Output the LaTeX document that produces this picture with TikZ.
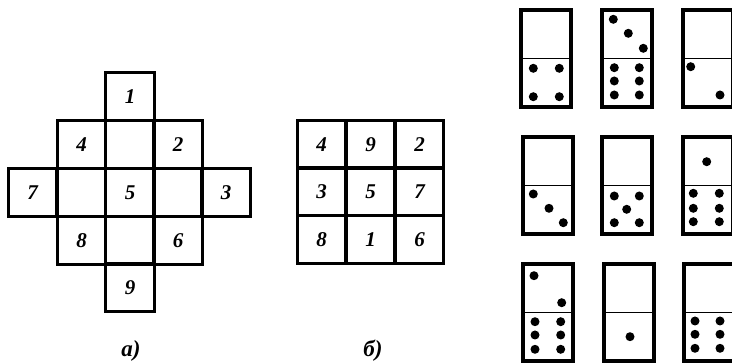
\documentclass[tikz,border=0pt]{standalone}
\usepackage{fontspec}
\setmainfont{Liberation Serif}
\begin{document}
\begin{tikzpicture}[x=1pt,y=-1pt,
  cell/.style={draw,line width=3pt,minimum width=48.4pt,minimum height=48pt,inner sep=0pt,font=\fontsize{21}{22}\selectfont\bfseries\itshape},
  dom/.style={draw,line width=3.2pt,minimum width=50pt,minimum height=97pt,inner sep=0pt},
  divider/.style={line width=1.3pt},
  pip/.style={fill=black},
  lab/.style={font=\fontsize{23}{24}\selectfont\bfseries\itshape}]
\useasboundingbox (0,0) rectangle (732,363);
% figure a
\node[cell] (a1) at (130,97) {1};
\node[cell] (a4) at (81.5,145) {4};
\node[cell] (ac1) at (130,145) {};
\node[cell] (a2) at (178,145) {2};
\node[cell] (a7) at (32.7,193) {7};
\node[cell] (ac2) at (81.5,193) {};
\node[cell] (a5) at (130,193) {5};
\node[cell] (ac3) at (178,193) {};
\node[cell] (a3) at (226,193) {3};
\node[cell] (a8) at (81.5,240.5) {8};
\node[cell] (ac4) at (130,240.5) {};
\node[cell] (a6) at (178,240.5) {6};
\node[cell] (a9) at (130,288) {9};
\node[lab] (la) at (131,351) {а)};
% figure b
\node[cell] (b4) at (321.5,144.5) {4};
\node[cell] (b9) at (370.5,144.5) {9};
\node[cell] (b2) at (419.5,144.5) {2};
\node[cell] (b3) at (321.5,192) {3};
\node[cell] (b5) at (370.5,192) {5};
\node[cell] (b7) at (419.5,192) {7};
\node[cell] (b8) at (321.5,239.5) {8};
\node[cell] (b1) at (370.5,239.5) {1};
\node[cell] (b6) at (419.5,239.5) {6};
\node[lab] (lb) at (373,351) {б)};
% dominoes
\foreach \n/\x/\y in {d11/546/58.5,d12/627/58.5,d13/708/58.5,d21/548/185.5,d22/627/185.5,d23/708/185.5,d31/548/312.5,d32/629/312.5,d33/709/312.5}{
  \node[dom] (\n) at (\x,\y) {};
  \draw[divider] (\n.west) -- (\n.east);
}
\foreach \p in {(533.3,68.3),(559.3,68.3),(533.3,96.7),(559.3,96.7),
  (613.3,19.3),(628.3,33.3),(643.3,48.3),
  (614.3,67.7),(639.3,67.7),(614.3,81),(639.3,81),(614.3,95),(639.3,95),
  (690.7,66.7),(720,95),
  (533.3,194),(549,208.3),(563.3,222.7),
  (614.3,196),(639.3,196),(626.7,209.3),(614.3,222.7),(639.3,222.7),
  (706.7,161.7),
  (693.3,193.3),(719.3,193.3),(693.3,208.3),(719.3,208.3),(693.3,221.7),(719.3,221.7),
  (534,275.7),(561.7,302.7),
  (535,321.7),(560.7,321.7),(535,335),(560.7,335),(535,349.3),(560.7,349.3),
  (630,336.7),
  (695,321),(720,321),(695,334.3),(720,334.3),(695,348.3),(720,348.3)}{
  \fill[pip] \p circle (4.5pt);
}
\end{tikzpicture}
\end{document}
